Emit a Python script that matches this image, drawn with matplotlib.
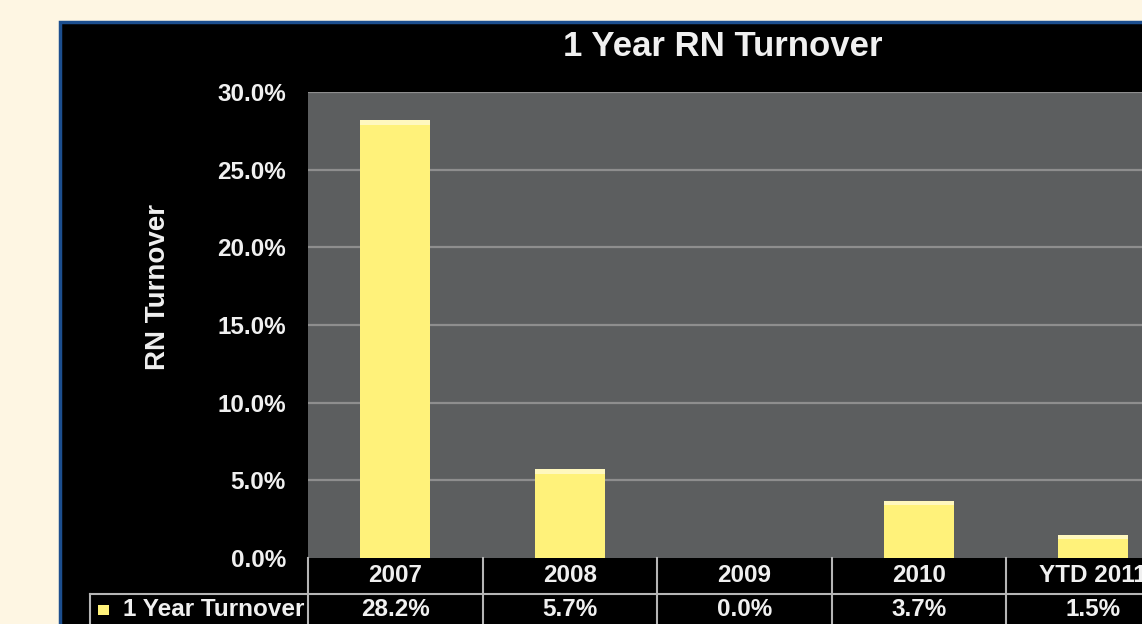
import matplotlib
matplotlib.use("Agg")
import matplotlib.pyplot as plt
from matplotlib.patches import Rectangle
from matplotlib import transforms
import numpy as np

categories = ["2007", "2008", "2009", "2010", "YTD 2011"]
turnover = [28.2, 5.7, 0.0, 3.7, 1.5]
value_labels = ["28.2%", "5.7%", "0.0%", "3.7%", "1.5%"]
yticks = [0, 5, 10, 15, 20, 25, 30]
series_name = "1 Year Turnover"
title = "1 Year RN Turnover"
ylabel = "RN Turnover"

W, H = 1142, 624
plt.rcParams['font.family'] = ['Liberation Sans', 'DejaVu Sans']
plt.rcParams['font.weight'] = 'bold'

fig = plt.figure(figsize=(W / 100, H / 100), dpi=100)
fig.patch.set_facecolor('#FEF6E3')

def fx(px):
    return px / W

def fy(py):
    return 1 - py / H

# black panel with blue border
panel = Rectangle((fx(60), fy(700)), fx(1200), fy(22) - fy(700),
                  transform=fig.transFigure, facecolor='black',
                  edgecolor='#1C4E8E', linewidth=2.5, zorder=-5)
fig.patches.append(panel)

txt_color = '#F0F0F0'
fs = 17.5
ax_left, ax_top, ax_bottom = 308, 92, 558
col_w = 174.5
ax = fig.add_axes([fx(ax_left), fy(ax_bottom), fx(col_w * 5), (ax_bottom - ax_top) / H])
ax.set_zorder(2)
ax.set_facecolor('#5C5E5F')
x = np.arange(len(categories))
vals = np.array(turnover)
ax.bar(x, vals, width=0.4, color='#FFF27A', zorder=3)
# lighter top highlight
hl = np.minimum(vals, 0.3)
ax.bar(x, hl, bottom=vals - hl, width=0.4, color='#FFF8BE', zorder=4)
ax.set_xlim(-0.5, len(categories) - 0.5)
ax.set_ylim(0, 30)
ax.set_yticks(yticks)
ax.set_yticklabels([f"{v:.1f}%" for v in yticks], color=txt_color,
                   fontsize=fs, fontweight='bold')
ax.tick_params(axis='y', length=0, pad=16)
ax.set_xticks([])
for y in yticks[1:]:
    ax.axhline(y, color='#8E8E8E', linewidth=1.6, zorder=1)
for s in ax.spines.values():
    s.set_visible(False)

fig.text(fx(723), fy(46), title, ha='center', va='center', color=txt_color,
         fontsize=25, fontweight='bold', zorder=3)
fig.text(fx(158), fy(287), ylabel, ha='center', va='center', rotation=90,
         color=txt_color, fontsize=20, fontweight='bold', zorder=3)

# data table below the plot
blend = transforms.blended_transform_factory(ax.transData, fig.transFigure)
line_c = '#B5B5B5'
lw = 1.5
hdr_top, hdr_bot, row_bot = 558, 594, 640
for b in np.arange(len(categories) + 1) - 0.5:
    ax.plot([b, b], [fy(hdr_top), fy(row_bot)], transform=blend, color=line_c,
            lw=lw, clip_on=False, zorder=5)
fig.lines.append(plt.Line2D([fx(90), fx(1200)], [fy(hdr_bot), fy(hdr_bot)],
                            transform=fig.transFigure, color=line_c, lw=lw,
                            zorder=3))
fig.lines.append(plt.Line2D([fx(90), fx(90)], [fy(hdr_bot), fy(row_bot)],
                            transform=fig.transFigure, color=line_c, lw=lw,
                            zorder=3))
for i, (c, v) in enumerate(zip(categories, value_labels)):
    ax.text(i, fy(576), c, transform=blend, ha='center', va='center',
            color=txt_color, fontsize=fs, fontweight='bold', clip_on=False)
    ax.text(i, fy(609), v, transform=blend, ha='center', va='center',
            color=txt_color, fontsize=fs, fontweight='bold', clip_on=False)

fig.patches.append(Rectangle((fx(98), fy(615)), fx(11), 10 / H,
                             transform=fig.transFigure, facecolor='#FFF27A',
                             edgecolor='none', zorder=3))
fig.text(fx(304), fy(609), series_name, ha='right', va='center',
         color=txt_color, fontsize=fs, fontweight='bold', zorder=3)

fig.savefig('out.png', dpi=100, facecolor=fig.get_facecolor())
